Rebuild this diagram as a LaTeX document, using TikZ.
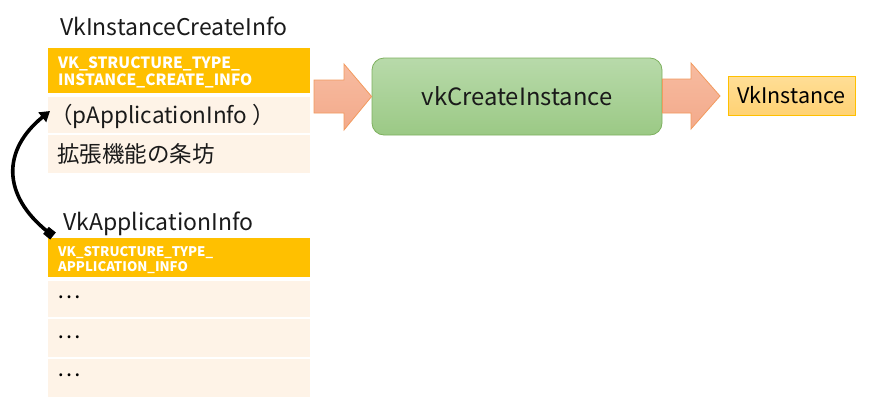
\documentclass[tikz,border=0pt]{standalone}
\usepackage{fontspec}
\setmainfont{Noto Sans CJK JP}
\usetikzlibrary{arrows.meta}
\definecolor{hdr}{HTML}{FFC000}
\definecolor{rowc}{HTML}{FEF3E7}
\definecolor{gtop}{HTML}{B8DAAA}
\definecolor{gbot}{HTML}{9BC985}
\definecolor{gline}{HTML}{7DB05E}
\definecolor{atop}{HTML}{F7BBA0}
\definecolor{abot}{HTML}{F3AA8B}
\definecolor{aline}{HTML}{F29A5E}
\definecolor{itop}{HTML}{FFDE96}
\definecolor{ibot}{HTML}{FFD274}
\definecolor{txt}{HTML}{1A1A1A}
\begin{document}
\begin{tikzpicture}[x=1pt,y=-1pt]
\useasboundingbox (0,0) rectangle (870,410);
\tikzset{
  hdrbox/.style={fill=hdr, draw=none, minimum width=262pt, anchor=north west, inner sep=0pt, outer sep=0pt},
  rowbox/.style={fill=rowc, draw=none, minimum width=262pt, anchor=north west, inner sep=0pt, outer sep=0pt},
  ttl/.style={font=\fontsize{23}{27}\selectfont, text=txt, anchor=base west, inner sep=0pt},
  rowtxt/.style={font=\fontsize{22.5}{26}\selectfont, text=txt, anchor=base west, inner sep=0pt},
  dotstxt/.style={font=\fontsize{22}{26}\selectfont, text=black, anchor=base west, inner sep=0pt},
  hdrtxt/.style={font=\bfseries\fontsize{15.5}{18}\selectfont, text=white, anchor=base west, inner sep=0pt},
  hdrtxtsm/.style={font=\bfseries\fontsize{13.2}{15}\selectfont, text=white, anchor=base west, inner sep=0pt},
  blockarrow/.style={top color=atop, bottom color=abot, draw=aline, line width=0.8pt, line join=miter},
  funcbox/.style={rounded corners=12pt, top color=gtop, bottom color=gbot, draw=gline, line width=0.8pt,
    minimum width=290pt, minimum height=77pt, inner sep=0pt, font=\fontsize{23.8}{28}\selectfont, text=txt},
  resbox/.style={top color=itop, bottom color=ibot, draw=hdr, line width=0.8pt,
    minimum width=127pt, minimum height=39pt, inner sep=0pt, font=\fontsize{21.5}{25}\selectfont, text=black},
  ptrarrow/.style={line width=3.6pt, {Square[length=9pt,width=9pt]}-{Triangle[length=10pt,width=12pt]}}
}
% --- VkInstanceCreateInfo ---
\node[ttl] (t1) at (60,35) {VkInstanceCreateInfo};
\node[hdrbox, minimum height=45pt] (h1) at (48,48) {};
\node[hdrtxt] (h1a) at (58,68) {VK\_STRUCTURE\_TYPE\_};
\node[hdrtxt] (h1b) at (58,85) {INSTANCE\_CREATE\_INFO};
\node[rowbox, minimum height=36pt] (r1) at (48,97) {};
\node[rowtxt] (r1t) at (50,123) {（pApplicationInfo ）};
\node[rowbox, minimum height=38pt] (r2) at (48,135) {};
\node[rowtxt] (r2t) at (57,162) {拡張機能の条坊};
% --- VkApplicationInfo ---
\node[ttl] (t2) at (63,230) {VkApplicationInfo};
\node[hdrbox, minimum height=39pt] (h2) at (48,238) {};
\node[hdrtxtsm] (h2a) at (58,256) {VK\_STRUCTURE\_TYPE\_};
\node[hdrtxtsm] (h2b) at (58,271) {APPLICATION\_INFO};
\node[rowbox, minimum height=36pt] (s1) at (48,281) {};
\node[dotstxt] (s1t) at (57,298.5) {…};
\node[rowbox, minimum height=38pt] (s2) at (48,319) {};
\node[dotstxt] (s2t) at (57,338.5) {…};
\node[rowbox, minimum height=38pt] (s3) at (48,359) {};
\node[dotstxt] (s3t) at (57,376.5) {…};
% --- function and result ---
\node[funcbox] (vk) at (517,96.5) {vkCreateInstance};
\node[resbox] (inst) at (791.5,95.5) {VkInstance};
% block arrows
\path[blockarrow] (314,80) -- (344,80) -- (344,64) -- (vk.west) -- (344,130) -- (344,113) -- (314,113) -- cycle;
\path[blockarrow] (vk.east |- 0,79) -- (691,79) -- (691,63) -- (720,96) -- (691,129) -- (691,113) -- (vk.east |- 0,113) -- cycle;
% pointer arrow
\coordinate (ps) at (53,236);
\coordinate (pe) at (50,111);
\draw[ptrarrow] (ps) .. controls (2,195) and (2,150) .. (pe);
\end{tikzpicture}
\end{document}
